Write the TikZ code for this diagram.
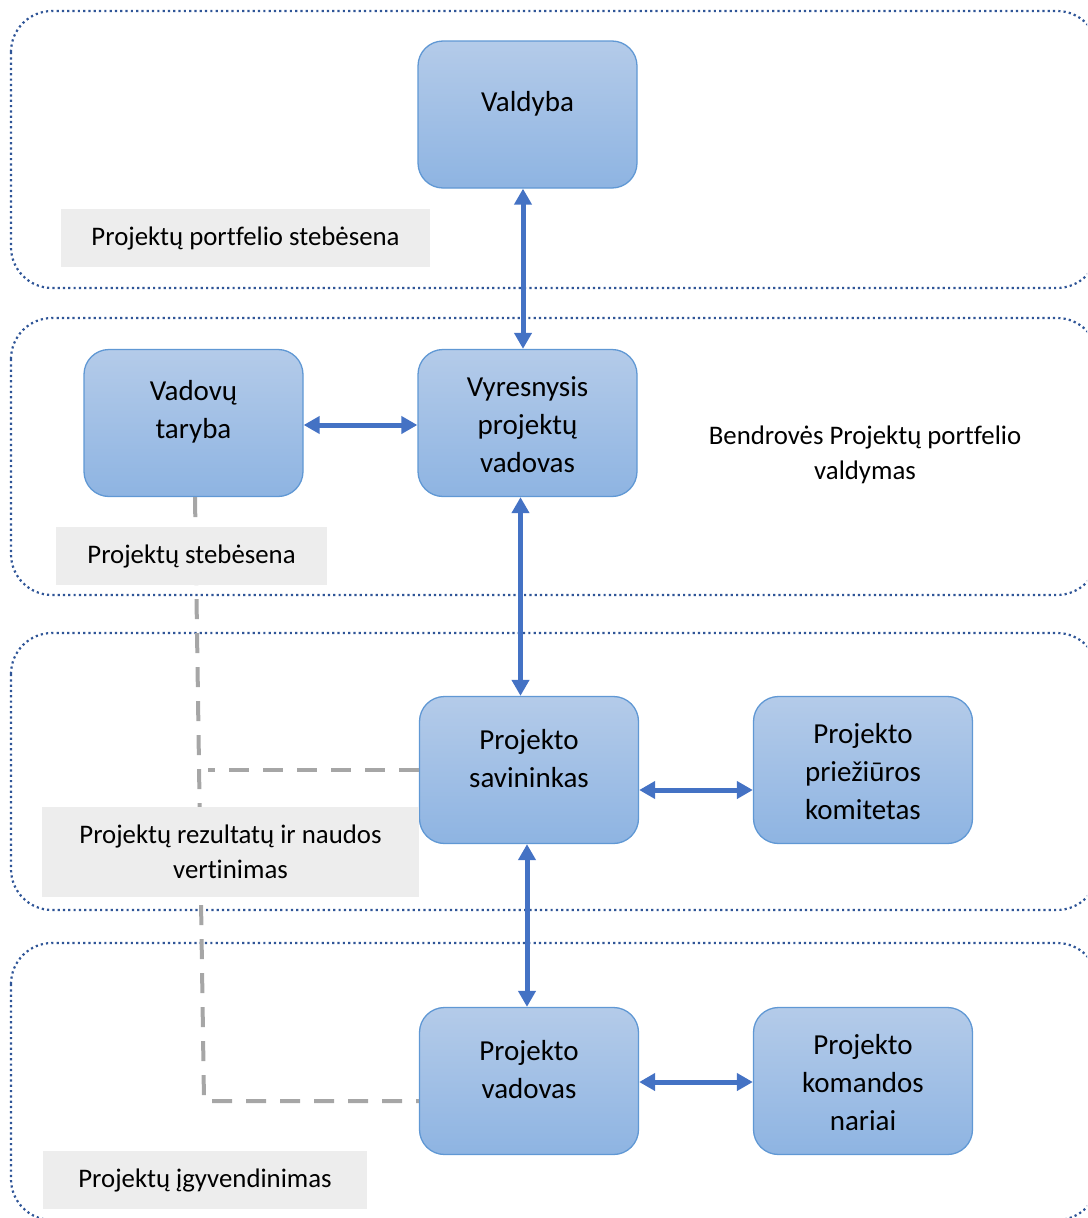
\documentclass[tikz,border=0pt]{standalone}
\usepackage{fontspec}
\setmainfont{Carlito}[Ligatures=NoCommon]
\usetikzlibrary{arrows.meta}
\definecolor{frameblue}{RGB}{47,85,151}
\definecolor{boxtop}{RGB}{180,203,233}
\definecolor{boxbot}{RGB}{142,180,226}
\definecolor{boxline}{RGB}{96,152,212}
\definecolor{arrowblue}{RGB}{68,114,196}
\definecolor{labelgray}{RGB}{237,237,237}
\definecolor{dashgray}{RGB}{166,166,166}
\begin{document}
\begin{tikzpicture}[x=1pt,y=-1pt,
  zoneframe/.style={draw=frameblue, line width=2.2pt, dash pattern=on 2.2pt off 3.1pt, rounded corners=41pt},
  bluebox/.style={draw=boxline, line width=1.3pt, rounded corners=25pt, top color=boxtop, bottom color=boxbot, minimum width=219pt, minimum height=147pt, inner sep=0pt},
  boxtext/.style={align=center, font=\fontsize{29}{38}\selectfont, inner sep=0pt},
  graylabel/.style={fill=labelgray, inner sep=0pt, align=center, font=\fontsize{26.8}{35}\selectfont},
  plaintext/.style={align=center, font=\fontsize{26.8}{35}\selectfont, inner sep=0pt},
  dbl/.style={draw=arrowblue, line width=5pt, {Triangle[length=16pt,width=17pt]}-{Triangle[length=16pt,width=17pt]}},
  conn/.style={draw=dashgray, line width=4pt, dash pattern=on 20pt off 14pt}
]
\useasboundingbox (0,0) rectangle (1087,1218);
\clip (0,0) rectangle (1087,1218);

% zone frames
\draw[zoneframe] (11,11) rectangle (1098,288);
\draw[zoneframe] (11,318) rectangle (1098,595);
\draw[zoneframe] (11,633) rectangle (1098,910);
\draw[zoneframe] (11,943) rectangle (1098,1220);

% blue boxes
\node[bluebox] (valdyba) at (527.5,114.5) {};
\node[bluebox] (taryba) at (193.5,423) {};
\node[bluebox] (vyresn) at (527.5,423) {};
\node[bluebox] (savin) at (529,770) {};
\node[bluebox] (komitet) at (863,770) {};
\node[bluebox] (vadovas) at (529,1081) {};
\node[bluebox] (komanda) at (863,1081) {};

% dashed gray connectors
\coordinate (dbend) at (204,1101);
\coordinate (dbr) at (208,770);
\draw[conn] ([xshift=1.5pt]taryba.south) -- (dbend) -- (vadovas.west |- dbend);
\draw[conn] (savin.west |- dbr) -- (dbr);

% gray labels
\node[graylabel, minimum width=369pt, minimum height=58pt] (lab1) at (245.5,238) {Projektų portfelio stebėsena};
\node[graylabel, minimum width=271pt, minimum height=58pt] (lab2) at (191.5,556) {Projektų stebėsena};
\node[graylabel, minimum width=377pt, minimum height=90pt] (lab3) at (230.5,852) {Projektų rezultatų ir naudos\\vertinimas};
\node[graylabel, minimum width=324pt, minimum height=58pt] (lab4) at (205,1180) {Projektų įgyvendinimas};

% plain text
\node[plaintext] (bendr) at (865,455) {Bendrovės Projektų portfelio\\valdymas};

% box texts
\node[boxtext] (valdybaT) at (527.5,104) {Valdyba};
\node[boxtext] (tarybaT) at (193.5,412) {Vadovų\\taryba};
\node[boxtext] (vyresnT) at (527.5,425) {Vyresnysis\\projektų\\vadovas};
\node[boxtext] (savinT) at (529,759) {Projekto\\savininkas};
\node[boxtext] (komitetT) at (863,772) {Projekto\\priežiūros\\komitetas};
\node[boxtext] (vadovasT) at (529,1070) {Projekto\\vadovas};
\node[boxtext] (komandaT) at (863,1083) {Projekto\\komandos\\nariai};

% blue arrows
\coordinate (v1) at (523,0);
\coordinate (v2) at (520.5,0);
\coordinate (v3) at (527,0);
\coordinate (h1) at (0,425);
\coordinate (h2) at (0,790);
\coordinate (h3) at (0,1082);
\draw[dbl] (valdyba.south -| v1) -- (vyresn.north -| v1);
\draw[dbl] (taryba.east |- h1) -- (vyresn.west |- h1);
\draw[dbl] (vyresn.south -| v2) -- (savin.north -| v2);
\draw[dbl] (savin.east |- h2) -- (komitet.west |- h2);
\draw[dbl] (savin.south -| v3) -- (vadovas.north -| v3);
\draw[dbl] (vadovas.east |- h3) -- (komanda.west |- h3);
\end{tikzpicture}
\end{document}
